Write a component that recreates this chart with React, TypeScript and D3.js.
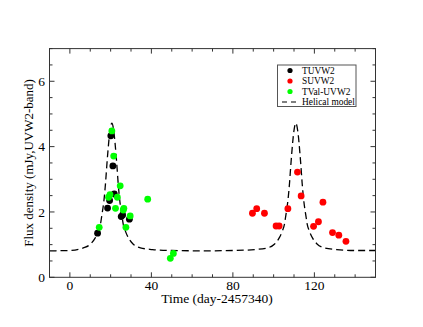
import React from "react";
import * as d3 from "d3";

const W = 423, H = 327;

const tuvw2T = [13.6, 18.5, 19.5, 20.1, 21.1, 21.8, 25.2, 25.9, 29.2];
const tuvw2F = [1.35, 2.12, 2.35, 4.33, 3.41, 2.55, 1.86, 1.91, 1.78];

const suvw2T = [89.6, 91.7, 95.5, 101.2, 102.7, 107.0, 111.7, 113.5, 119.6, 122.0, 124.2, 128.9, 132.0, 135.5];
const suvw2F = [1.96, 2.10, 1.96, 1.57, 1.57, 2.10, 3.22, 2.49, 1.56, 1.70, 2.30, 1.37, 1.29, 1.10];

const tvalT = [14.4, 19.0, 19.7, 20.6, 21.5, 22.4, 23.3, 24.7, 26.2, 26.5, 27.5, 29.6, 38.2, 49.3, 50.8];
const tvalF = [1.53, 2.45, 2.53, 4.48, 3.71, 2.11, 2.45, 2.80, 2.06, 2.11, 1.53, 1.88, 2.39, 0.58, 0.73];

const modelT = [-10, 0, 6.6, 10.2, 12.3, 14.0, 15.0, 15.6, 16.8, 17.5, 18.1, 18.6, 19.6, 20.6, 21.6, 22.6, 23.1, 23.7, 24.4, 25.6, 26.2, 27.2, 28.9, 31.0, 34.6, 40.6, 50, 65.7, 80, 90.9, 96.9, 100.5, 102.6, 104.3, 105.3, 105.9, 107.1, 107.8, 108.4, 108.9, 109.9, 110.9, 111.9, 112.9, 113.4, 114.0, 114.7, 115.9, 116.5, 117.5, 119.2, 121.3, 124.9, 130.9, 140, 150];
const modelF = [0.81, 0.82, 0.90, 1.02, 1.19, 1.42, 1.62, 1.86, 2.40, 2.88, 3.40, 3.80, 4.45, 4.72, 4.45, 3.80, 3.40, 2.88, 2.40, 1.86, 1.62, 1.42, 1.19, 1.02, 0.90, 0.85, 0.82, 0.81, 0.82, 0.85, 0.90, 1.02, 1.19, 1.42, 1.62, 1.86, 2.40, 2.88, 3.40, 3.80, 4.45, 4.72, 4.45, 3.80, 3.40, 2.88, 2.40, 1.86, 1.62, 1.42, 1.19, 1.02, 0.90, 0.85, 0.82, 0.82];

const xMajor = [0, 40, 80, 120];
const xMinor = d3.range(-10, 151, 10);
const yMajor = [0, 2, 4, 6];
const yMinor = d3.range(0, 7.01, 0.5);

const legendLabels = ["TUVW2", "SUVW2", "TVal-UVW2", "Helical model"];
const legendColors = ["#000000", "#ff0000", "#00ff00", "#000000"];

const xLabel = "Time (day-2457340)";
const yLabel = "Flux density (mJy,UVW2-band)";

export default function App() {
  const L = 49.5, R = 375.5, T = 48.6, B = 277.3;
  const x = d3.scaleLinear().domain([-10, 150]).range([L, R]);
  const y = d3.scaleLinear().domain([0, 7]).range([B, T]);
  const line = d3.line<number>().x((_, i) => x(modelT[i])).y((d) => y(d)).curve(d3.curveMonotoneX);
  const font = "'Liberation Serif', 'Times New Roman', serif";
  const axisColor = "#333";

  const series = [
    { t: tuvw2T, f: tuvw2F, c: legendColors[0] },
    { t: suvw2T, f: suvw2F, c: legendColors[1] },
    { t: tvalT, f: tvalF, c: legendColors[2] },
  ];

  return (
    <svg width={W} height={H} style={{ position: "absolute", left: 0, top: 0, background: "#fff" }} fontFamily={font}>
      <rect x={0} y={0} width={W} height={H} fill="#fff" />
      <path d={line(modelF) || ""} fill="none" stroke="#000" strokeWidth={1.3} strokeDasharray="7,4" />
      {series.map((s, si) =>
        s.t.map((t, i) => <circle key={si + "-" + i} cx={x(t)} cy={y(s.f[i])} r={3.4} fill={s.c} />)
      )}
      {/* frame */}
      <rect x={L} y={T} width={R - L} height={B - T} fill="none" stroke={axisColor} strokeWidth={1} />
      {xMinor.map((v) => (
        <g key={"xm" + v}>
          <line x1={x(v)} x2={x(v)} y1={B} y2={B - (xMajor.includes(v) ? 5 : 3)} stroke={axisColor} />
          <line x1={x(v)} x2={x(v)} y1={T} y2={T + (xMajor.includes(v) ? 5 : 3)} stroke={axisColor} />
        </g>
      ))}
      {yMinor.map((v) => (
        <g key={"ym" + v}>
          <line x1={L} x2={L + (yMajor.includes(v) ? 5 : 3)} y1={y(v)} y2={y(v)} stroke={axisColor} />
          <line x1={R} x2={R - (yMajor.includes(v) ? 5 : 3)} y1={y(v)} y2={y(v)} stroke={axisColor} />
        </g>
      ))}
      {xMajor.map((v) => (
        <text key={"xt" + v} x={x(v)} y={289.5} textAnchor="middle" fontSize={13.5} fill="#000">{v}</text>
      ))}
      {yMajor.map((v) => (
        <text key={"yt" + v} x={45} y={y(v) + 4.6} textAnchor="end" fontSize={13.5} fill="#000">{v}</text>
      ))}
      <text x={217} y={303} textAnchor="middle" fontSize={13.5} fill="#000">{xLabel}</text>
      <text transform={`translate(33,${(T + B) / 2}) rotate(-90)`} textAnchor="middle" fontSize={13} fill="#000">{yLabel}</text>
      {/* legend */}
      <rect x={277.5} y={65} width={78.5} height={41.5} fill="#fff" stroke="#555" strokeWidth={1} />
      {legendLabels.map((lab, i) => {
        const cy = 70.5 + i * 10.5;
        return (
          <g key={lab}>
            {i < 3 ? (
              <circle cx={290} cy={cy} r={2.6} fill={legendColors[i]} />
            ) : (
              <line x1={282} x2={297} y1={cy} y2={cy} stroke="#000" strokeWidth={1.2} strokeDasharray="5,4" />
            )}
            <text x={302} y={cy + 3.3} fontSize={9.4} fill="#000">{lab}</text>
          </g>
        );
      })}
    </svg>
  );
}
